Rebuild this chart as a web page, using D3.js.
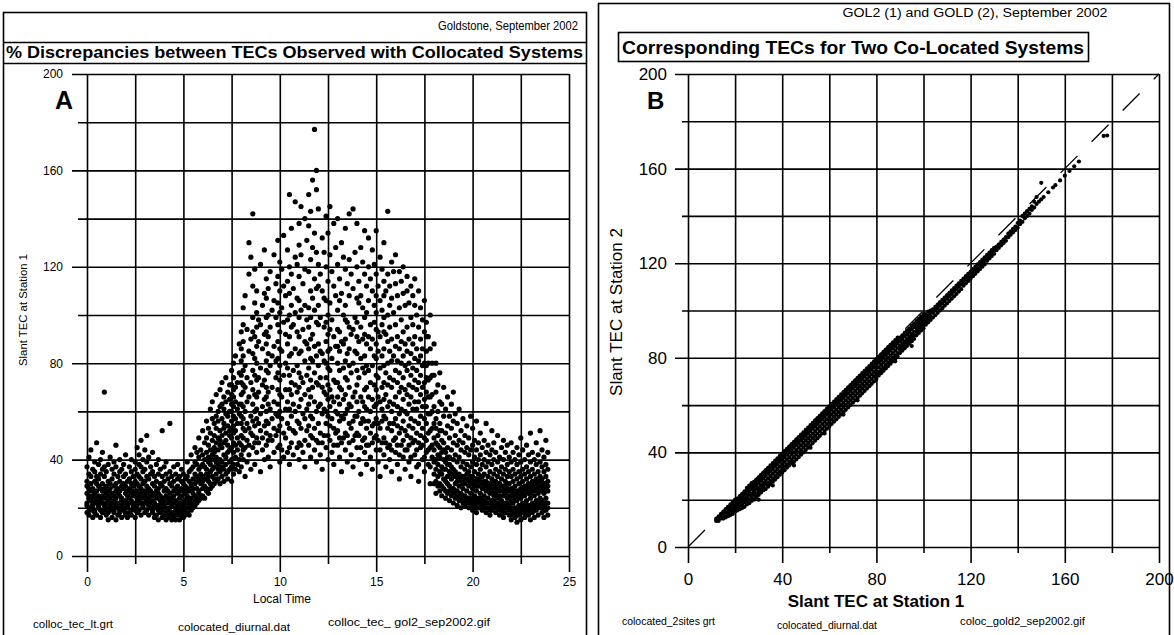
<!DOCTYPE html>
<html>
<head>
<meta charset="utf-8">
<script src="https://cdn.jsdelivr.net/npm/d3@7"></script>
<style>
  body { margin: 0; background: #fff; }
  svg { display: block; }
  text { font-family: Arial, "Liberation Sans", Helvetica, sans-serif; fill: #000; }
</style>
</head>
<body>
<svg id="chart" width="1174" height="635"></svg>
<script>
// ---- Panel A: slant TEC at station 1 versus local time (hours) ----
// each row: [local time, [slant TEC values observed at that time]]
const diurnalTEC = [
  [0.0,[18,21,22,26,29,31,37]],[0.1,[17,20,24,25,28,34,41]],[0.2,[19,20,23,27,30,33,44]],[0.3,[16,21,22,25,28,36]],
  [0.4,[18,19,24,26,31,35,39]],[0.5,[17,22,23,27,30,33,47]],[0.6,[20,21,25,29,32,38]],[0.7,[16,19,23,24,28,34,40]],
  [0.8,[18,22,25,27,30,36,43]],[0.9,[19,21,24,28,33,37,68]],[1.0,[17,20,22,26,29,35]],[1.1,[15,18,23,25,27,31,38]],
  [1.2,[19,21,24,28,30,41]],[1.3,[16,20,22,26,32,36]],[1.4,[18,19,23,25,29,34,39]],[1.5,[15,21,24,27,30,37,46]],
  [1.6,[17,20,22,26,28,33]],[1.7,[18,19,25,27,31,35,40]],[1.8,[16,21,23,24,29,36]],[1.9,[19,20,22,28,30,33,38]],
  [2.0,[17,18,23,26,29,34,42]],[2.1,[16,20,21,25,27,31]],[2.2,[18,22,24,28,32,37]],[2.3,[17,19,23,26,30,35,40]],
  [2.4,[20,21,25,27,29,33]],[2.5,[16,19,22,26,31,36,39]],[2.6,[18,21,24,27,30,34,45]],[2.7,[19,23,25,29,33,38,42]],
  [2.8,[17,22,26,28,32,37,48]],[2.9,[20,21,24,30,35,40]],[3.0,[18,22,25,27,31,36,44]],[3.1,[19,23,26,29,33,39,50]],
  [3.2,[17,21,24,28,32,41]],[3.3,[20,22,25,27,34,37]],[3.4,[18,19,23,26,30,35,43]],[3.5,[16,21,22,25,29,33]],
  [3.6,[17,20,24,27,31,38]],[3.7,[15,19,21,26,28,34,40]],[3.8,[18,20,23,25,30,36]],[3.9,[16,19,22,24,29,33,52]],
  [4.0,[17,21,23,27,31,37]],[4.1,[15,18,20,25,28,34,39]],[4.2,[16,19,22,24,27,32]],[4.3,[17,20,23,26,30,35,55]],
  [4.4,[15,18,21,24,29,33]],[4.5,[16,17,22,25,27,31,37]],[4.6,[15,19,20,23,28,34]],[4.7,[17,18,21,26,29,32,38]],
  [4.8,[15,19,22,24,27,33]],[4.9,[16,18,20,25,28,31,36]],[5.0,[16,19,21,23,27,30,34]],[5.1,[17,18,22,26,29,32]],
  [5.2,[18,20,24,25,28,33,39]],[5.3,[17,21,23,27,31,35]],[5.4,[19,22,24,29,30,36,42]],[5.5,[20,21,26,28,32,37]],
  [5.6,[21,23,25,30,34,39,45]],[5.7,[22,24,28,31,33,38,43]],[5.8,[23,26,27,32,36,41,49]],[5.9,[24,25,30,34,37,44]],
  [6.0,[25,28,31,33,38,42,52]],[6.1,[24,29,32,37,40,47]],[6.2,[27,28,34,36,43,49,56]],[6.3,[26,31,33,39,41,46,53]],
  [6.4,[28,30,35,38,44,51,61]],[6.5,[29,33,36,40,42,48,57,64]],[6.6,[30,32,37,43,45,50,55]],[6.7,[31,34,39,41,47,53,58,67]],
  [6.8,[32,36,38,44,49,56,60]],[6.9,[30,35,40,46,48,52,62,69]],[7.0,[33,37,39,45,50,57,63,72]],[7.1,[31,36,42,47,53,55,61,66]],
  [7.2,[34,38,41,48,51,59,64,74]],[7.3,[32,35,43,46,54,58,68]],[7.4,[36,39,44,50,52,60,65,71]],
  [7.5,[31,37,40,45,49,53,56,60,63,67,71,77]],[7.6,[34,38,43,47,51,54,58,62,66,69,74,80]],[7.7,[36,41,46,52,57,64,70,83]],
  [7.8,[38,44,49,55,61,72]],[7.9,[35,40,47,59,63,76,88]],[8.0,[37,42,46,50,55,58,63,67,72,75,81,86,93]],
  [8.1,[40,44,49,53,57,62,68,71,77,83,89,96,103]],[8.2,[33,45,52,60,70,79,108]],[8.3,[39,48,55,64,74,94]],
  [8.4,[42,46,53,66,85,117,130]],[8.5,[36,51,58,72,90,124]],[8.6,[45,50,56,63,69,77,84,93,99,112,142]],
  [8.7,[38,47,54,60,67,75,82,91,105,119]],[8.8,[43,49,57,61,66,73,80,87,95,101,110]],[8.9,[47,55,68,74,89,98]],
  [9.0,[35,52,59,78,96,121]],[9.1,[44,49,62,71,86,104]],[9.2,[40,54,65,73,92,109,127]],
  [9.3,[46,51,56,60,66,70,77,81,88,93,99,107,115]],[9.4,[41,48,55,63,68,76,84,91,100,111]],[9.5,[37,50,61,79,95,118]],
  [9.6,[48,57,70,83,102]],[9.7,[43,53,64,87,106,125]],[9.8,[50,59,74,81,99,113]],
  [9.9,[45,52,58,63,69,76,82,89,96,105,116,131]],[10.0,[39,46,54,60,67,73,79,86,93,101,110,122]],
  [10.1,[44,57,66,85,103,119]],[10.2,[41,51,75,97,112,133]],[10.3,[49,61,69,80,92,108]],
  [10.4,[43,55,64,78,88,98,114,127]],[10.5,[38,45,53,61,69,75,83,91,100,109,120,150]],[10.6,[47,58,67,72,84,95,104,117,136]],
  [10.7,[42,52,63,77,96,111]],[10.8,[51,60,71,86,101,124,147]],[10.9,[45,56,68,79,93,107,121]],
  [11.0,[40,47,55,62,70,76,84,91,99,106,116,129,138]],[11.1,[46,53,65,74,85,102,125,145]],[11.2,[43,59,72,94,113]],
  [11.3,[37,48,57,67,81,89,104,119,140]],[11.4,[52,61,75,88,98,131]],[11.5,[46,54,63,69,78,86,95,103,118,137,150]],
  [11.6,[41,50,58,66,73,82,90,99,110,123,143]],[11.7,[49,57,70,81,92,107,128,156]],[11.8,[44,53,64,76,87,102,115,134,177]],
  [11.9,[39,48,60,72,83,97,111,126,152,160]],[12.0,[47,55,62,71,79,88,96,104,112,121,144]],[12.1,[42,51,63,74,85,99,117]],
  [12.2,[36,47,59,70,84,110,132]],[12.3,[50,61,68,81,95,107,126]],[12.4,[45,55,60,67,74,80,89,97,106,120,141]],
  [12.5,[40,50,58,65,71,78,85,92,100,114,134]],[12.6,[48,54,62,69,77,86,94,105,125,145]],[12.7,[43,57,66,82,98,118]],
  [12.8,[38,46,53,64,73,91,112,138]],[12.9,[51,60,72,87,108,128]],[13.0,[46,52,59,66,72,80,87,94,102,121,140]],
  [13.1,[41,49,56,63,70,77,85,93,106,115]],[13.2,[35,47,58,69,89,109,130]],[13.3,[49,57,65,78,88,100,124]],
  [13.4,[44,51,59,67,74,81,90,98,104,119,136]],[13.5,[39,50,61,73,84,97,113]],[13.6,[47,55,63,70,79,86,95,108,123,142]],
  [13.7,[42,53,62,76,92,117]],[13.8,[37,48,56,66,80,94,111,144]],[13.9,[50,58,68,85,99,126]],
  [14.0,[45,51,58,64,71,77,84,91,97,107,120,138]],[14.1,[40,50,60,74,89,105,114]],[14.2,[34,45,55,66,82,95,108,128]],
  [14.3,[48,57,64,78,90,103,122]],[14.4,[43,49,56,62,69,76,83,92,99,117,135]],[14.5,[38,46,53,61,70,79,88,101,112]],
  [14.6,[46,56,66,77,91,106,120,132]],[14.7,[41,51,60,72,86,96,115]],[14.8,[36,47,54,65,79,90,110,127]],
  [14.9,[49,55,62,71,83,97,104,121]],[15.0,[44,50,57,63,69,75,82,88,94,101,108,117,135]],[15.1,[39,48,55,66,74,85,93,112]],
  [15.2,[33,44,53,64,78,91,106,124]],[15.3,[47,56,61,70,83,96,102,119]],[15.4,[42,49,58,65,72,79,86,93,99,108,114,130]],
  [15.5,[37,47,57,67,76,92,110]],[15.6,[45,53,62,71,80,89,100,117,143]],[15.7,[40,46,55,64,74,85,95,104,112]],
  [15.8,[35,44,52,60,70,81,90,107,122]],[15.9,[48,55,63,73,83,101,118]],[16.0,[43,49,57,66,77,87,96,113,125]],
  [16.1,[38,46,54,62,72,81,91,108]],[16.2,[32,42,51,59,68,76,86,103,118]],[16.3,[46,53,61,70,80,89,98,114]],
  [16.4,[41,48,56,65,74,83,93,109,120]],[16.5,[36,44,52,60,69,79,88,104]],[16.6,[44,50,59,67,77,85,95,110,116]],
  [16.7,[39,46,54,63,71,80,90,105]],[16.8,[33,41,49,57,66,75,84,99,112]],[16.9,[47,53,61,70,78,88,96,108]],
  [17.0,[42,48,56,64,73,82,91,104,115]],[17.1,[37,44,51,61,69,77,86,100]],[17.2,[31,38,47,55,64,72,81,95,110]],
  [17.3,[45,50,58,67,75,83,90,103]],[17.4,[40,46,53,62,70,79,86,98]],[17.5,[35,41,49,57,65,72,80,93,106]],
  [17.6,[43,48,55,62,68,74,79,85,91,97]],[17.7,[38,44,51,59,66,73,80,91]],[17.8,[30,37,45,52,59,66,74,86,100]],
  [17.9,[41,46,53,60,67,75,80]],
  [18.0,[30,34,39,44,49,55,62,75,88]],[18.1,[26,31,36,40,47,53,57,68,80]],[18.2,[29,33,38,42,46,50,60,71]],
  [18.3,[27,30,35,41,45,52,55,64,76]],[18.4,[25,29,34,37,43,48,52,63]],[18.5,[28,32,36,40,44,47,58,70]],
  [18.6,[24,27,31,36,39,43,51,61]],[18.7,[26,30,33,38,41,45,54,66]],[18.8,[23,27,29,35,38,41,49,58]],
  [18.9,[25,28,32,34,37,44,53,63]],[19.0,[22,26,28,34,36,40,47,56,68]],[19.1,[24,27,30,33,35,42,50,59]],
  [19.2,[21,25,27,31,33,39,46,55]],[19.3,[23,26,29,32,34,41,48,61]],[19.4,[20,24,26,31,33,37,44,52]],
  [19.5,[22,25,28,30,33,39,47,57]],[19.6,[21,23,25,30,32,36,43,50]],[19.7,[23,24,27,32,34,38,45,54]],
  [19.8,[20,22,24,29,31,35,42,49]],[19.9,[22,23,26,31,33,37,44,58]],[20.0,[19,21,24,28,30,33,39,46,53]],
  [20.1,[21,23,25,30,32,35,41,48]],[20.2,[18,20,23,27,29,32,38,44,56]],[20.3,[20,22,24,29,31,34,40,47]],
  [20.4,[22,24,26,31,33,36,42,51]],[20.5,[19,21,23,28,30,33,38,45]],[20.6,[21,23,25,29,31,34,40,48]],
  [20.7,[18,20,22,27,29,31,37,43,55]],[20.8,[20,22,24,28,30,33,39,46]],[20.9,[17,19,22,26,28,30,35,42]],
  [21.0,[19,21,23,27,29,32,38,44,52]],[21.1,[21,23,25,29,31,34,40,47]],[21.2,[18,20,22,26,28,31,36,43]],
  [21.3,[20,22,24,28,30,33,39,50]],[21.4,[17,19,21,25,27,30,35,41]],[21.5,[19,21,23,27,29,32,37,45]],
  [21.6,[16,18,21,25,27,29,34,40,48]],[21.7,[18,20,22,26,28,31,36,43]],[21.8,[20,22,24,28,30,33,38,46]],
  [21.9,[17,19,21,25,27,30,35,41]],[22.0,[15,17,19,23,25,28,33,39,47]],[22.1,[18,20,22,26,28,31,36,43]],
  [22.2,[16,18,20,24,26,29,34,40]],[22.3,[14,17,19,23,25,27,32,38,45]],[22.4,[17,19,21,25,27,30,35,42]],
  [22.5,[15,18,20,24,26,28,33,39,49]],[22.6,[18,20,22,26,28,31,36,44]],[22.7,[16,18,21,25,27,29,34,40]],
  [22.8,[19,21,23,27,29,32,37,46]],[22.9,[17,19,21,26,28,30,35,42]],[23.0,[15,18,20,24,26,28,33,39,51]],
  [23.1,[18,20,22,27,29,31,36,43]],[23.2,[16,19,21,25,27,30,34,40]],[23.3,[19,21,23,28,30,32,38,47]],
  [23.4,[17,20,22,26,28,31,35,42]],[23.5,[20,22,24,29,31,33,39,52]],[23.6,[18,21,23,27,29,32,37,44]],
  [23.7,[16,19,21,26,28,30,35,41]],[23.8,[19,22,24,28,30,33,38,48]],[23.9,[17,20,22,27,29,31,36,43]]
];

// ---- Panel B: corresponding slant TECs, station 1 vs station 2 ----
// each row: [slant TEC at station 1, [slant TEC values at station 2]]
const pairedTEC = [
  [12,[11,11.5,12]],[13,[11,12,13]],[14,[12,12.5,13.5,14]],[15,[12,13,14,15]],[16,[12.5,13.5,14.5,15.5,16]],
  [17,[13,14,15.5,16.5,17]],[18,[13.5,15,16,17,18]],[19,[14,15.5,16.5,18,19]],[20,[15,16,17.5,18.5,20]],
  [21,[15.5,17,18,19.5,20.5]],[22,[16,17.5,19,20.5,21.5]],[23,[16.5,18,19.5,21,22.5]],[24,[17,19,20.5,22,23.5]],
  [25,[18,19.5,21,22.5,24,25]],[26,[18.5,20,22,23.5,25,26]],[27,[19.5,21,22.5,24.5,26,27]],[28,[20,22,23.5,25,26.5,27.5]],
  [29,[21,22.5,24.5,26,27.5,28.5]],[30,[22,23.5,25,27,28.5,29.5]],[31,[23,24.5,26,28,29.5,30.5]],
  [32,[24,25.5,27,29,30.5,31.5]],[33,[24.5,26.5,28,30,31.5,32.5]],[34,[25.5,27,29,31,32.5,33.5]],
  [35,[26.5,28,30,32,33.5,34.5]],[36,[27.5,29,31,33,34.5,35.5]],[37,[28.5,30,32,34,35.5,36.5]],
  [38,[29.5,31,33,35,36.5,37.5]],[39,[30.5,32,34,36,37.5,38.5]],[40,[31.5,33,35,37,38.5,39.5]],
  [41,[32.5,34,36,38,39.5,40.5]],[42,[33.5,35,37,39,40.5,41.5]],[43,[34.5,36,38,40,41.5,42.5]],
  [44,[35.5,37,39,41,42.5,43.5]],[45,[36,38,40,42,43.5,44.5]],[46,[37,39,41,43,44.5,45.5]],
  [47,[38,40,42,44,45.5,46.5]],[48,[39,41,43,45,46.5,47.5]],[49,[40,42,44,46,47.5,48.5]],
  [50,[41,43,45,47,48.5,49.5]],[51,[42,44,46,48,49.5,50.5]],[52,[43,45,47,49,50.5,51.5]],
  [53,[44,46,48,50,51.5,52.5]],[54,[45,47,49,51,52.5,53.5]],[55,[46,48,50,52,53.5,54.5]],
  [56,[47,49,51,53,54.5,55.5]],[57,[48,50,52,54,55.5,56.5]],[58,[49,51,53,55,56.5,57.5]],
  [59,[50,52,54,56,57.5,58.5]],[60,[51,53,55,57,58.5,59.5]],[61,[52,54,56,58,59.5,60.5]],
  [62,[53,55,57,59,60.5,61.5]],[63,[54,56,58,60,61.5,62.5]],[64,[55,57,59,61,62.5,63.5]],
  [65,[56,58,60,62,63.5,64.5]],[66,[57,59,61,63,64.5,65.5]],[67,[58,60,62,64,65.5,66.5]],
  [68,[59,61,63,65,66.5,67.5]],[69,[60,62,64,66,67.5,68.5]],[70,[61,63,65,67,68.5,69.5]],
  [71,[62,64,66,68,69.5,70.5]],[72,[63,65,67,69,70.5,71.5]],[73,[64,66,68,70,71.5,72.5]],
  [74,[65,67,69,71,72.5,73.5]],[75,[66,68,70,72,73.5,74.5]],[76,[67,69,71,73,74.5,75.5]],
  [77,[68,70,72,74,75.5,76.5]],[78,[69,71,73,75,76.5,77.5]],[79,[70,72,74,76,77.5,78.5]],
  [80,[71,73,75,77,78.5,79.5]],[81,[72.5,74,76,78,79.5,80.5]],[82,[73.5,75,77,79,80.5,81.5]],
  [83,[74.5,76,78,80,81.5,82.5]],[84,[75.5,77,79,81,82.5,83.5]],[85,[76.5,78,80,82,83.5,84.5]],
  [86,[77.5,79,81,83,84.5,85.5]],[87,[78.5,80,82,84,85.5,86.5]],[88,[79.5,81,83,85,86.5,87.5]],
  [89,[80.5,82,84,86,87.5,88.5]],[90,[82,83.5,85,87,88.5]],[91,[83,84.5,86,88,89.5]],
  [92,[84,85.5,87,89,90.5]],[93,[85,86.5,88,90,91.5]],[94,[86,87.5,89,91,92.5]],
  [95,[87,88.5,90,92,93.5]],[96,[88,89.5,91,93,94.5]],[97,[89.5,91,92.5,94,95.5]],
  [98,[90.5,92,93.5,95,96.5]],[99,[91.5,93,94.5,96,97.5]],[100,[92.5,94,95.5,97,98.5]],
  [101,[94,95.5,97,98.5]],[102,[95,96.5,98,99.5]],[103,[96,97.5,99,100]],[104,[97,99,100.5]],
  [105,[98,100,101.5]],[106,[99,101,102.5]],[107,[100,102,103.5]],[108,[101,103,104.5]],
  [109,[102,104,105.5]],[110,[103,105,106.5]],[111,[104,106,107.5]],[112,[105,107,108.5]],
  [113,[106,108,109.5]],[114,[107,109,110.5]],[115,[108,110,111.5]],[116,[109,111,112.5]],
  [117,[110.5,112,113.5]],[118,[111.5,113,114.5]],[119,[112.5,114,115.5]],[120,[113.5,115,116.5]],
  [121,[114.5,116,117.5]],[122,[115.5,117,118.5]],[123,[116.5,118,119.5]],[124,[117.5,119,120.5]],
  [125,[118.5,120,121.5]],[126,[119.5,121,122.5]],[127,[121,122.5,123.5]],[128,[122,123.5,124.5]],
  [129,[123,124.5,125.5]],[130,[124,125.5,126.5]],[131,[125.5,127]],[132,[126.5,128]],[133,[127.5,129]],
  [134,[128.5,130]],[135,[129.5,131]],[136,[131,132.5]],[137,[132,133.5]],[138,[133,134.5]],
  [139,[134,135.5]],[140,[135,137]],[141,[136.5,138]],[142,[137.5,140]],[143,[139,141]],[144,[140,142]],
  [145,[141,143]],[146,[142.5,144]],[147,[143.5,146]],[148,[145,148]],[149,[146]],[150,[147,154]],
  [151,[148]],[153,[150]],[155,[152]],[156,[153]],[158,[155]],[160,[157]],[162,[159]],[164,[161]],
  [166,[163]],[176.5,[173.8]],[178,[174]],
  [30,[20]],[36,[26]],[45,[34.5]],[52,[42]],[58,[48]],[66,[56]],[72,[62]],[88,[78.5]],[95,[85]]
];

const leftTimeTicks = [0, 5, 10, 15, 20, 25];
const leftTimeMinor = [2.5, 7.5, 12.5, 17.5, 22.5];
const tecTicks = [0, 40, 80, 120, 160, 200];
const tecMinor = [20, 60, 100, 140, 180];

const svg = d3.select("#chart");
const FONT = "Arial, 'Liberation Sans', sans-serif";

// ---------- panel frames ----------
const frame = svg.append("g").attr("fill", "none").attr("stroke", "#000").attr("stroke-width", 1.6);
frame.append("rect").attr("x", 3.5).attr("y", 12.5).attr("width", 583).attr("height", 640);
frame.append("line").attr("x1", 3.5).attr("x2", 586.5).attr("y1", 42.5).attr("y2", 42.5);
frame.append("line").attr("x1", 3.5).attr("x2", 586.5).attr("y1", 63.5).attr("y2", 63.5);
frame.append("rect").attr("x", 598.5).attr("y", 3.5).attr("width", 571).attr("height", 640);
frame.append("rect").attr("x", 618.5).attr("y", 32.5).attr("width", 470).attr("height", 29);

// ---------- grids via d3 axes ----------
function grid(g, axis) {
  g.call(axis);
  g.select(".domain").remove();
  g.selectAll(".tick line").attr("stroke", "#000").attr("stroke-width", 1.6);
}

// Panel A scales
const xA = d3.scaleLinear().domain([0, 25]).range([87, 569]);
const yA = d3.scaleLinear().domain([0, 200]).range([556, 74]);

const gA = svg.append("g");
gA.append("g").attr("transform", "translate(72,0)")
  .call(g => grid(g, d3.axisLeft(yA).tickValues(tecTicks).tickSize(-(569 - 72)).tickPadding(9)))
  .call(g => g.selectAll("text").attr("font-size", 12).attr("font-family", FONT));
gA.append("g").attr("transform", "translate(78,0)")
  .call(g => grid(g, d3.axisLeft(yA).tickValues(tecMinor).tickSize(-(569 - 78)).tickFormat("")));
gA.append("g").attr("transform", "translate(0,572)")
  .call(g => grid(g, d3.axisBottom(xA).tickValues(leftTimeTicks).tickSize(-(572 - 74)).tickPadding(5)))
  .call(g => g.selectAll("text").attr("font-size", 12).attr("font-family", FONT));
gA.append("g").attr("transform", "translate(0,564)")
  .call(g => grid(g, d3.axisBottom(xA).tickValues(leftTimeMinor).tickSize(-(564 - 74)).tickFormat("")));

// Panel A points
const ptsA = diurnalTEC.flatMap(([t, vals]) => vals.map(v => ({ t, v })));
gA.append("g").selectAll("circle").data(ptsA).join("circle")
  .attr("cx", d => xA(d.t)).attr("cy", d => yA(d.v)).attr("r", 2.6).attr("fill", "#000");

// Panel B scales
const xB = d3.scaleLinear().domain([0, 200]).range([688, 1159]);
const yB = d3.scaleLinear().domain([0, 200]).range([547, 74]);

const gB = svg.append("g");
gB.append("g").attr("transform", "translate(675,0)")
  .call(g => grid(g, d3.axisLeft(yB).tickValues(tecTicks).tickSize(-(1159 - 675)).tickPadding(8)))
  .call(g => g.selectAll("text").attr("font-size", 17).attr("font-family", FONT));
gB.append("g").attr("transform", "translate(682,0)")
  .call(g => grid(g, d3.axisLeft(yB).tickValues(tecMinor).tickSize(-(1159 - 682)).tickFormat("")));
gB.append("g").attr("transform", "translate(0,563)")
  .call(g => grid(g, d3.axisBottom(xB).tickValues(tecTicks).tickSize(-(563 - 74)).tickPadding(10)))
  .call(g => g.selectAll("text").attr("font-size", 17).attr("font-family", FONT));
gB.append("g").attr("transform", "translate(0,553)")
  .call(g => grid(g, d3.axisBottom(xB).tickValues(tecMinor).tickSize(-(553 - 74)).tickFormat("")));

// one-to-one reference line
gB.append("line")
  .attr("x1", xB(0)).attr("y1", yB(0)).attr("x2", xB(200)).attr("y2", yB(200))
  .attr("stroke", "#000").attr("stroke-width", 1.3).attr("stroke-dasharray", "24 20");

// Panel B points
const ptsB = pairedTEC.flatMap(([s1, vals]) => vals.map(s2 => ({ s1, s2 })));
gB.append("g").selectAll("circle").data(ptsB).join("circle")
  .attr("cx", d => xB(d.s1)).attr("cy", d => yB(d.s2)).attr("r", 2.1).attr("fill", "#000");

// ---------- texts ----------
function txt(x, y, s, size, opts = {}) {
  const t = svg.append("text").attr("x", x).attr("y", y).attr("font-size", size).text(s);
  if (opts.anchor) t.attr("text-anchor", opts.anchor);
  if (opts.bold) t.attr("font-weight", "bold");
  if (opts.len) t.attr("textLength", opts.len).attr("lengthAdjust", "spacingAndGlyphs");
  if (opts.rotate) t.attr("transform", `rotate(-90,${x},${y})`);
  return t;
}

// Panel A texts
txt(578, 30, "Goldstone, September 2002", 12, { anchor: "end", len: 140 });
txt(6, 58, "% Discrepancies between TECs Observed with Collocated Systems", 16, { bold: true, len: 577 });
txt(55, 109, "A", 25, { bold: true });
txt(27, 310, "Slant TEC at Station 1", 11, { anchor: "middle", rotate: true, len: 112 });
txt(282, 603, "Local Time", 12, { anchor: "middle" });
txt(33, 628, "colloc_tec_lt.grt", 11, { len: 80 });
txt(178, 631, "colocated_diurnal.dat", 11, { len: 112 });
txt(328, 626, "colloc_tec_ gol2_sep2002.gif", 11, { len: 162 });

// Panel B texts
txt(975, 17, "GOL2 (1) and GOLD (2), September 2002", 12, { anchor: "middle", len: 265 });
txt(853, 54, "Corresponding TECs for Two Co-Located Systems", 19, { anchor: "middle", bold: true, len: 462 });
txt(647, 109, "B", 24, { bold: true });
txt(622, 312, "Slant TEC at Station 2", 17, { anchor: "middle", rotate: true });
txt(876, 607, "Slant TEC at Station 1", 17, { anchor: "middle", bold: true });
txt(622, 625, "colocated_2sites grt", 11, { len: 93 });
txt(777, 629, "colocated_diurnal.dat", 11, { len: 100 });
txt(960, 625, "coloc_gold2_sep2002.gif", 11, { len: 125 });
</script>
</body>
</html>
